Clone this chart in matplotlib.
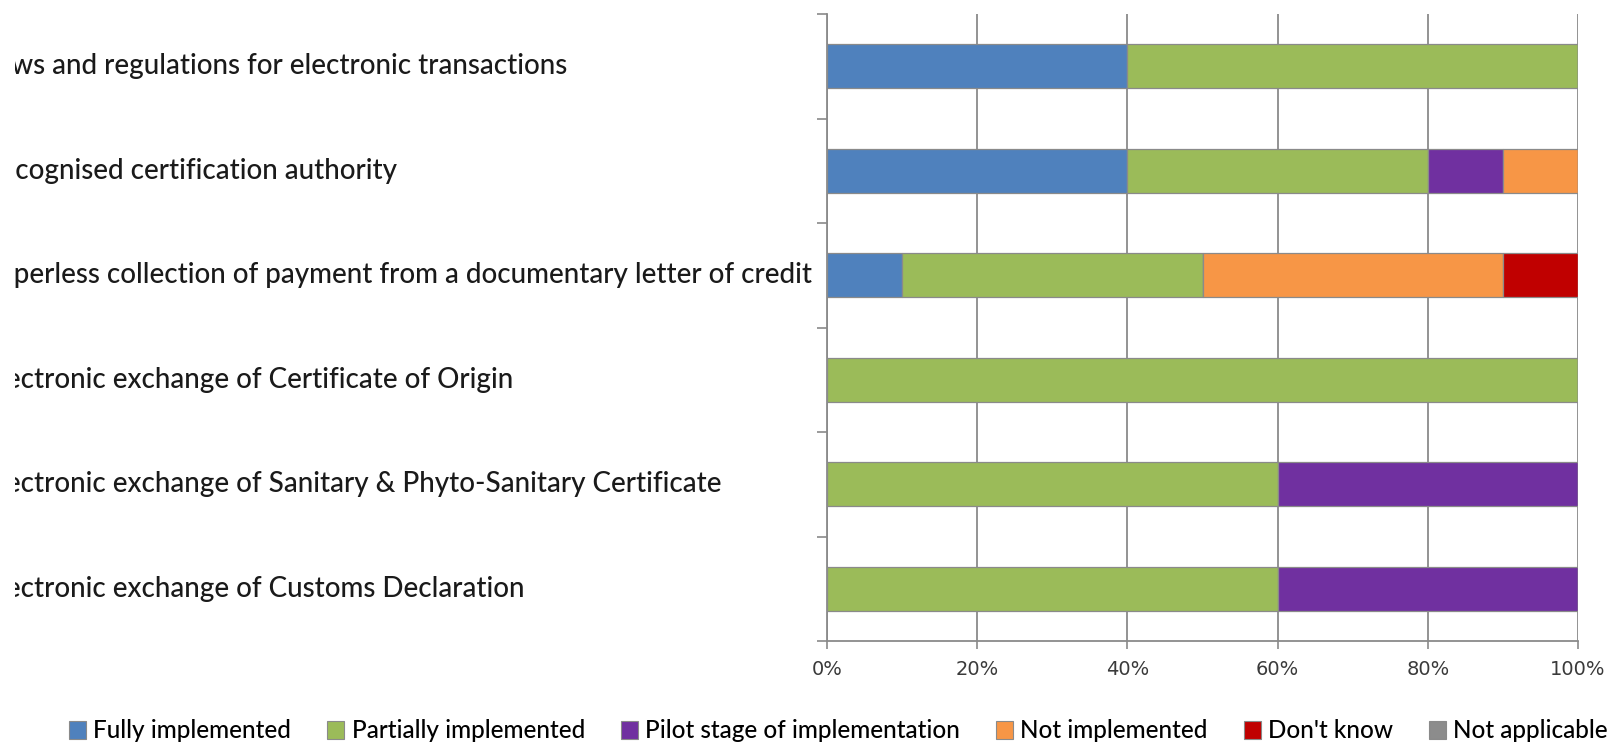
import matplotlib
matplotlib.use("Agg")
import matplotlib.pyplot as plt
import matplotlib.transforms as mtransforms
from matplotlib.patches import Patch
import numpy as np

categories = [
    "Laws and regulations for electronic transactions",
    "Recognised certification authority",
    "Paperless collection of payment from a documentary letter of credit",
    "Electronic exchange of Certificate of Origin",
    "Electronic exchange of Sanitary & Phyto-Sanitary Certificate",
    "Electronic exchange of Customs Declaration",
]
series_names = ["Fully implemented", "Partially implemented", "Pilot stage of implementation",
                "Not implemented", "Don't know", "Not applicable"]
fully = [40, 40, 10, 0, 0, 0]
partially = [60, 40, 40, 100, 60, 60]
pilot = [0, 10, 0, 0, 40, 40]
not_impl = [0, 10, 40, 0, 0, 0]
dont_know = [0, 0, 10, 0, 0, 0]
not_appl = [0, 0, 0, 0, 0, 0]
x_ticks = [0, 20, 40, 60, 80, 100]
x_tick_labels = ["0%", "20%", "40%", "60%", "80%", "100%"]

colors = ["#4F81BD", "#9BBB59", "#7030A0", "#F79646", "#C00000", "#8C8C8C"]
series = [fully, partially, pilot, not_impl, dont_know, not_appl]

W, H = 1611, 743
fig = plt.figure(figsize=(W / 100, H / 100), dpi=100)
ax = fig.add_axes([827 / W, 1 - 641 / H, (1578 - 827) / W, (641 - 14) / H])

n = len(categories)
ypos = np.arange(n)
left = np.zeros(n)
for vals, col in zip(series, colors):
    v = np.array(vals, dtype=float)
    ax.barh(ypos, v, left=left, height=0.42, color=col, edgecolor="#8a8a8a",
            linewidth=0.9, zorder=3)
    left += v

ax.set_xlim(0, 100)
ax.set_ylim(n - 0.5, -0.5)
ax.set_xticks(x_ticks)
ax.set_xticklabels(x_tick_labels, fontsize=14, color="#3a3a3a", family="DejaVu Sans")
ax.set_yticks(np.arange(n + 1) - 0.5)
ax.set_yticklabels([])
ax.tick_params(axis="y", direction="out", length=7, width=1.2, color="#8a8a8a")
ax.tick_params(axis="x", direction="out", length=6, width=1.2, color="#8a8a8a", pad=8)
ax.grid(axis="x", color="#8a8a8a", linewidth=1.3, zorder=0)
for s in ["top", "right"]:
    ax.spines[s].set_visible(False)
for s in ["left", "bottom"]:
    ax.spines[s].set_color("#8a8a8a")
    ax.spines[s].set_linewidth(1.3)

# category labels, left-aligned and clipped near the left edge
fs = 20
clip_x = 15
trans = mtransforms.blended_transform_factory(fig.transFigure, ax.transData)
renderer = fig.canvas.get_renderer()
t1 = fig.text(0, 0, categories[2], fontsize=fs, family="Lato", fontweight="medium")
t2 = fig.text(0, 0, categories[2][2:], fontsize=fs, family="Lato", fontweight="medium")
wpa = t1.get_window_extent(renderer).width - t2.get_window_extent(renderer).width
t1.remove()
t2.remove()
x0 = (clip_x - wpa - 1) / W
clipbox = mtransforms.Bbox.from_extents(clip_x, 0, W, H)
for i, c in enumerate(categories):
    t = fig.text(x0, i, c, transform=trans, ha="left", va="center", fontsize=fs,
                 family="Lato", fontweight="medium", color="#1a1a1a")
    t.set_clip_on(True)
    t.set_clip_box(clipbox)

handles = [Patch(facecolor=c, edgecolor="#8a8a8a", linewidth=0.8) for c in colors]
fig.legend(handles, series_names, loc="center", bbox_to_anchor=(0.5205, 1 - 731 / H),
           ncol=6, frameon=False,
           prop={"family": "Lato", "size": 17.5, "weight": "medium"},
           handlelength=0.7, handleheight=0.7, handletextpad=0.3, columnspacing=1.48)

fig.savefig("out.png", dpi=100)
